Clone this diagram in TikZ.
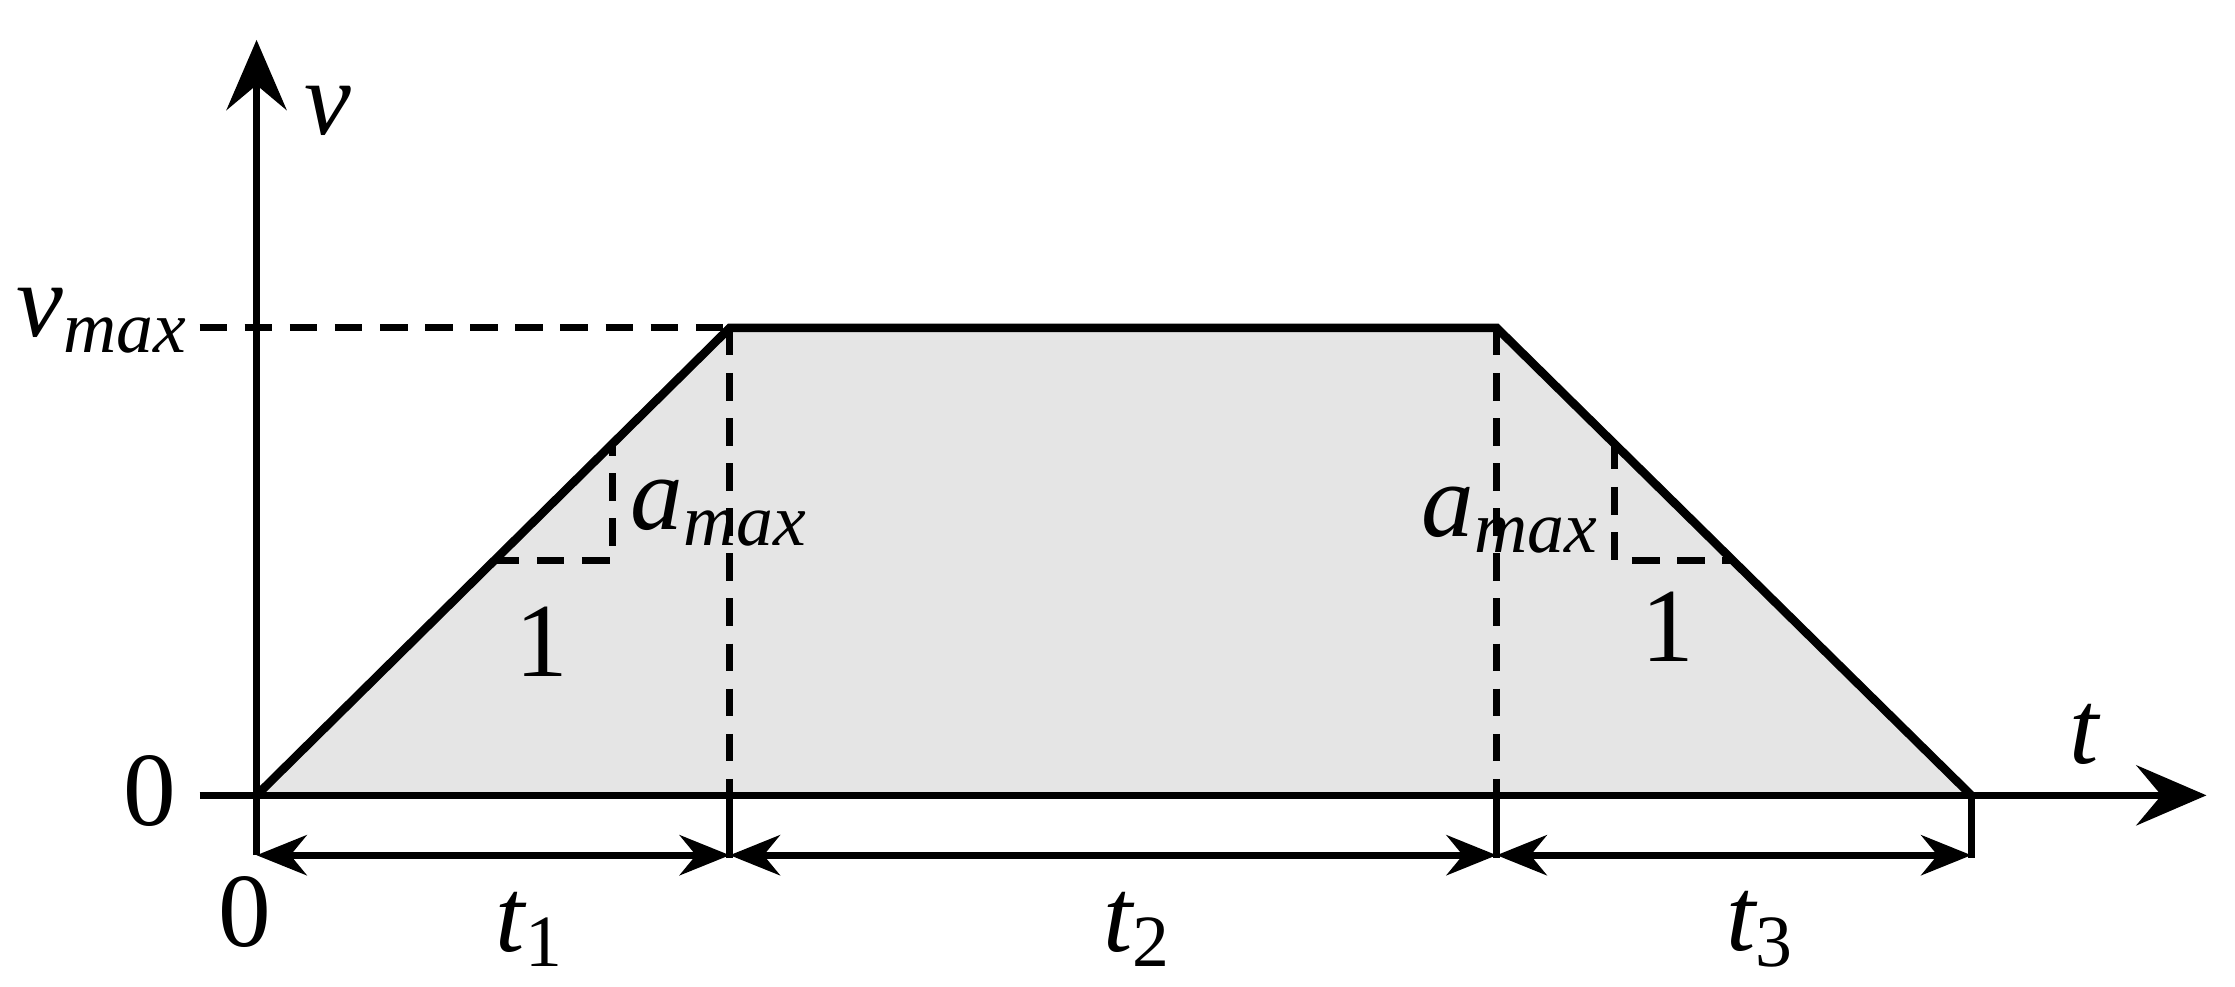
\documentclass[tikz,border=0pt]{standalone}
\usepackage{fontspec}
\setmainfont{Liberation Serif}
\usetikzlibrary{arrows.meta}
\begin{document}
\begin{tikzpicture}[x=0.01cm,y=-0.01cm,line width=1.4pt,
  lbl/.style={font=\fontsize{21}{24}\selectfont\itshape,inner sep=0pt},
  num/.style={font=\fontsize{21}{24}\selectfont,inner sep=0pt},
  dsh/.style={dash pattern=on 5.5pt off 3.5pt},
  tip/.style={-{Stealth[length=14pt,width=12pt,inset=5pt]}},
  dim/.style={{Stealth[length=10pt,width=8pt]}-{Stealth[length=10pt,width=8pt]}}]
\useasboundingbox (0,0) rectangle (1568,692);
\coordinate (O) at (180,558);
\coordinate (A) at (512,230);
\coordinate (B) at (1050,230);
\coordinate (C) at (1383,558);
\coordinate (A0) at (512,558);
\coordinate (B0) at (1050,558);
\fill[gray!20] (O) -- (A) -- (B) -- (C) -- cycle;
% axes
\coordinate (yb) at (180,600); \coordinate (yt) at (180,28);
\coordinate (xl) at (140,558); \coordinate (xr) at (1548,558);
\draw[tip] (yb) -- (yt);
\draw[tip] (xl) -- (xr);
% dashed guides
\coordinate (vl) at (140,230);
\draw[dsh] (vl) -- (A);
\draw[dsh] (A) -- (A0);
\draw[dsh] (B) -- (B0);
% profile
\draw[line width=1.7pt] (O) -- (A) -- (B) -- (C);
% ticks
\coordinate (A1) at (512,602); \coordinate (B1) at (1050,602); \coordinate (C1) at (1383,602);
\draw (A0) -- (A1); \draw (B0) -- (B1); \draw (C) -- (C1);
% dimension arrows
\coordinate (d0) at (180,600); \coordinate (d1) at (512,600);
\coordinate (d2) at (1050,600); \coordinate (d3) at (1383,600);
\draw[dim] (d0) -- (d1);
\draw[dim] (d1) -- (d2);
\draw[dim] (d2) -- (d3);
% slope triangles
\coordinate (s1) at (345,393); \coordinate (s2) at (430,393); \coordinate (s3) at (430,310);
\draw[dsh] (s1) -- (s2) -- (s3);
\coordinate (r1) at (1133,310); \coordinate (r2) at (1133,393); \coordinate (r3) at (1215,393);
\draw[dsh] (r1) -- (r2) -- (r3);
% labels
\node[lbl] (v) at (230,78) {v};
\node[lbl] (vm) at (72,225) {v\textsubscript{max}};
\node[num] (z1) at (105,555) {0};
\node[num] (z2) at (172,640) {0};
\node[lbl] (t) at (1462,515) {t};
\node[lbl] (t1) at (372,652) {t\textsubscript{\upshape 1}};
\node[lbl] (t2) at (798,652) {t\textsubscript{\upshape 2}};
\node[lbl] (t3) at (1235,652) {t\textsubscript{\upshape 3}};
\node[lbl] (a1) at (505,360) {a\textsubscript{max}};
\node[lbl] (a2) at (1060,365) {a\textsubscript{max}};
\node[num] (o1) at (380,450) {1};
\node[num] (o2) at (1170,440) {1};
\end{tikzpicture}
\end{document}
